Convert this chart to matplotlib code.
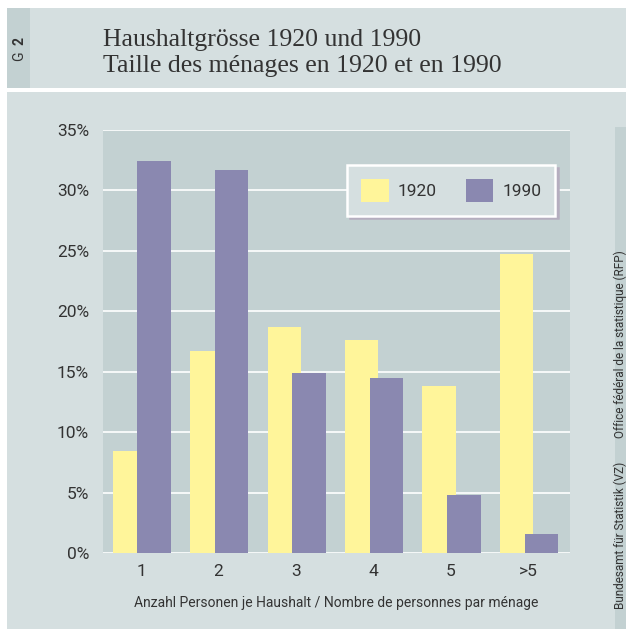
import matplotlib
matplotlib.use("Agg")
import matplotlib.pyplot as plt
from matplotlib.patches import Rectangle
import numpy as np

categories = ["1", "2", "3", "4", "5", ">5"]
values_1920 = [8.4, 16.7, 18.7, 17.6, 13.8, 24.7]
values_1990 = [32.4, 31.7, 14.9, 14.5, 4.8, 1.6]
series_names = ["1920", "1990"]
yticks = [0, 5, 10, 15, 20, 25, 30, 35]

W, H = 626, 629
fig = plt.figure(figsize=(W / 100, H / 100), dpi=100)
fig.patch.set_facecolor("white")

BG = "#d5dfe0"
STRIP = "#c3d1d2"
PLOT_BG = "#c3d1d2"
YEL = "#fff59a"
PUR = "#8a88b0"
TXT = "#333333"
SANS = "Roboto"

def px(x0, y0, w, h):
    return [x0 / W, 1 - (y0 + h) / H, w / W, h / H]

# header band
fig.add_artist(Rectangle((7 / W, 1 - 88 / H), 1, 80 / H, transform=fig.transFigure,
                         facecolor=BG, edgecolor="none", zorder=0))
fig.add_artist(Rectangle((7 / W, 1 - 88 / H), 23 / W, 80 / H, transform=fig.transFigure,
                         facecolor=STRIP, edgecolor="none", zorder=0))
# main body
fig.add_artist(Rectangle((7 / W, 0), 1, 1 - 92 / H, transform=fig.transFigure,
                         facecolor=BG, edgecolor="none", zorder=0))
# right strip
fig.add_artist(Rectangle((615 / W, 0), 1, 1 - 127 / H, transform=fig.transFigure,
                         facecolor=STRIP, edgecolor="none", zorder=0))

fig.text(19 / W, 1 - 56 / H, "G", rotation=90, ha="center", va="center",
         fontsize=10, color=TXT, family=SANS)
fig.text(19 / W, 1 - 41 / H, "2", rotation=90, ha="center", va="center",
         fontsize=10, color=TXT, family=SANS, fontweight="bold")
fig.text(103 / W, 1 - 40 / H, "Haushaltgrösse 1920 und 1990", ha="left", va="center",
         fontsize=18.5, color=TXT, family="Liberation Serif")
fig.text(103 / W, 1 - 66 / H, "Taille des ménages en 1920 et en 1990", ha="left", va="center",
         fontsize=18.5, color=TXT, family="Liberation Serif")

fig.text(620 / W, 1 - 250 / H, "Office fédéral de la statistique (RFP)",
         rotation=90, ha="center", va="top", fontsize=8.5, color=TXT, family=SANS)
fig.text(620 / W, 1 - 462 / H, "Bundesamt für Statistik (VZ)",
         rotation=90, ha="center", va="top", fontsize=8.5, color=TXT, family=SANS)

ax = fig.add_axes(px(103, 130, 467, 423))
ax.set_facecolor(PLOT_BG)
x = np.arange(len(categories))
w = 0.43
ax.bar(x - 0.15, values_1920, width=w, color=YEL, label=series_names[0], zorder=3)
ax.bar(x + 0.17, values_1990, width=w, color=PUR, label=series_names[1], zorder=4)
ax.set_xlim(-0.49, 5.54)
ax.set_ylim(0, 35)
ax.set_yticks(yticks)
ax.set_yticklabels([f"{v}%" for v in yticks], fontsize=12.5, color=TXT, family=SANS)
ax.set_xticks(x)
ax.set_xticklabels(categories, fontsize=12.5, color=TXT, family=SANS)
ax.tick_params(length=0, pad=8)
ax.tick_params(axis="y", pad=10)
for s in ax.spines.values():
    s.set_visible(False)
ax.yaxis.grid(True, color="white", linewidth=1.2, zorder=1)
ax.set_axisbelow(True)
ax.set_xlabel("Anzahl Personen je Haushalt / Nombre de personnes par ménage",
              fontsize=10, color=TXT, labelpad=12, family=SANS)

lx0 = (347 - 103) / 467
lw = (555 - 347) / 467
lh = 51 / 423
ly0 = 1 - (216 - 130) / 423
leg = ax.legend(loc="center", bbox_to_anchor=(lx0, ly0, lw, lh),
                mode="expand", ncol=2, frameon=True, borderaxespad=0,
                prop={"family": SANS, "size": 12.5},
                handlelength=1.6, handleheight=1.6, borderpad=0.8, columnspacing=2.0,
                handletextpad=0.5, fancybox=False,
                shadow={"color": "#b5aebf", "alpha": 1})
frame = leg.get_frame()
frame.set_facecolor(BG)
frame.set_edgecolor("white")
frame.set_linewidth(1.8)
frame.set_alpha(1)
for t in leg.get_texts():
    t.set_color(TXT)

fig.savefig("out.png", dpi=100, facecolor=fig.get_facecolor())
